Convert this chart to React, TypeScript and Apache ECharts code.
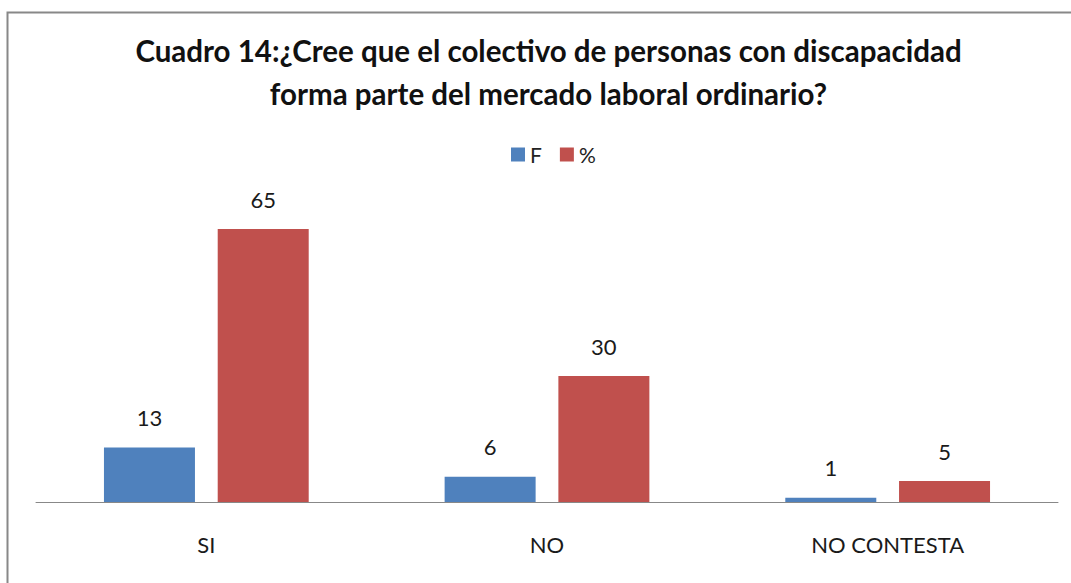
import React, { useEffect, useRef } from "react";
import * as echarts from "echarts";

const categories = ["SI", "NO", "NO CONTESTA"];
const seriesF = [13, 6, 1];
const seriesPct = [65, 30, 5];
const seriesNames = ["F", "%"];
const titleText =
  "Cuadro 14:¿Cree que el colectivo de personas con discapacidad\nforma parte del mercado laboral ordinario?";

export default function App() {
  const ref = useRef<HTMLDivElement>(null);
  useEffect(() => {
    if (!ref.current) return;
    const chart = echarts.init(ref.current, undefined, { renderer: "svg" });
    const font = "Lato";
    const labelStyle = {
      show: true,
      position: "top" as const,
      distance: 19,
      fontSize: 22,
      color: "#1a1a1a",
      fontFamily: font,
    };
    chart.setOption({
      animation: false,
      backgroundColor: "#ffffff",
      title: {
        text: titleText,
        left: 543.5,
        textAlign: "center",
        top: 24,
        textStyle: {
          fontFamily: font,
          fontSize: 29.5,
          fontWeight: "bold",
          color: "#111",
          lineHeight: 43,
        },
      },
      legend: {
        top: 139,
        left: 506,
        itemWidth: 14,
        itemHeight: 14,
        itemGap: 18,
        icon: "rect",
        textStyle: { fontFamily: font, fontSize: 21, color: "#222" },
        data: seriesNames,
      },
      graphic: [
        {
          type: "rect",
          shape: { x: 7.5, y: 12.5, width: 1200, height: 700 },
          style: { fill: "none", stroke: "#888888", lineWidth: 2 },
          silent: true,
        },
      ],
      grid: { left: 36, right: 13, top: 208, bottom: 81 },
      xAxis: {
        type: "category",
        data: categories,
        axisLine: { lineStyle: { color: "#888888", width: 1 } },
        axisTick: { show: false },
        axisLabel: { fontFamily: font, fontSize: 22, color: "#1a1a1a", margin: 31 },
      },
      yAxis: {
        type: "value",
        min: 0,
        max: 70,
        show: false,
        splitLine: { show: false },
      },
      series: [
        {
          name: seriesNames[0],
          type: "bar",
          data: seriesF,
          barWidth: 91,
          barGap: "25%",
          itemStyle: { color: "#4F81BD" },
          label: labelStyle,
        },
        {
          name: seriesNames[1],
          type: "bar",
          data: seriesPct,
          barWidth: 91,
          barGap: "25%",
          itemStyle: { color: "#C0504D" },
          label: labelStyle,
        },
      ],
    });
    return () => chart.dispose();
  }, []);
  return (
    <div
      ref={ref}
      style={{ position: "fixed", left: 0, top: 0, width: 1071, height: 583 }}
    />
  );
}
